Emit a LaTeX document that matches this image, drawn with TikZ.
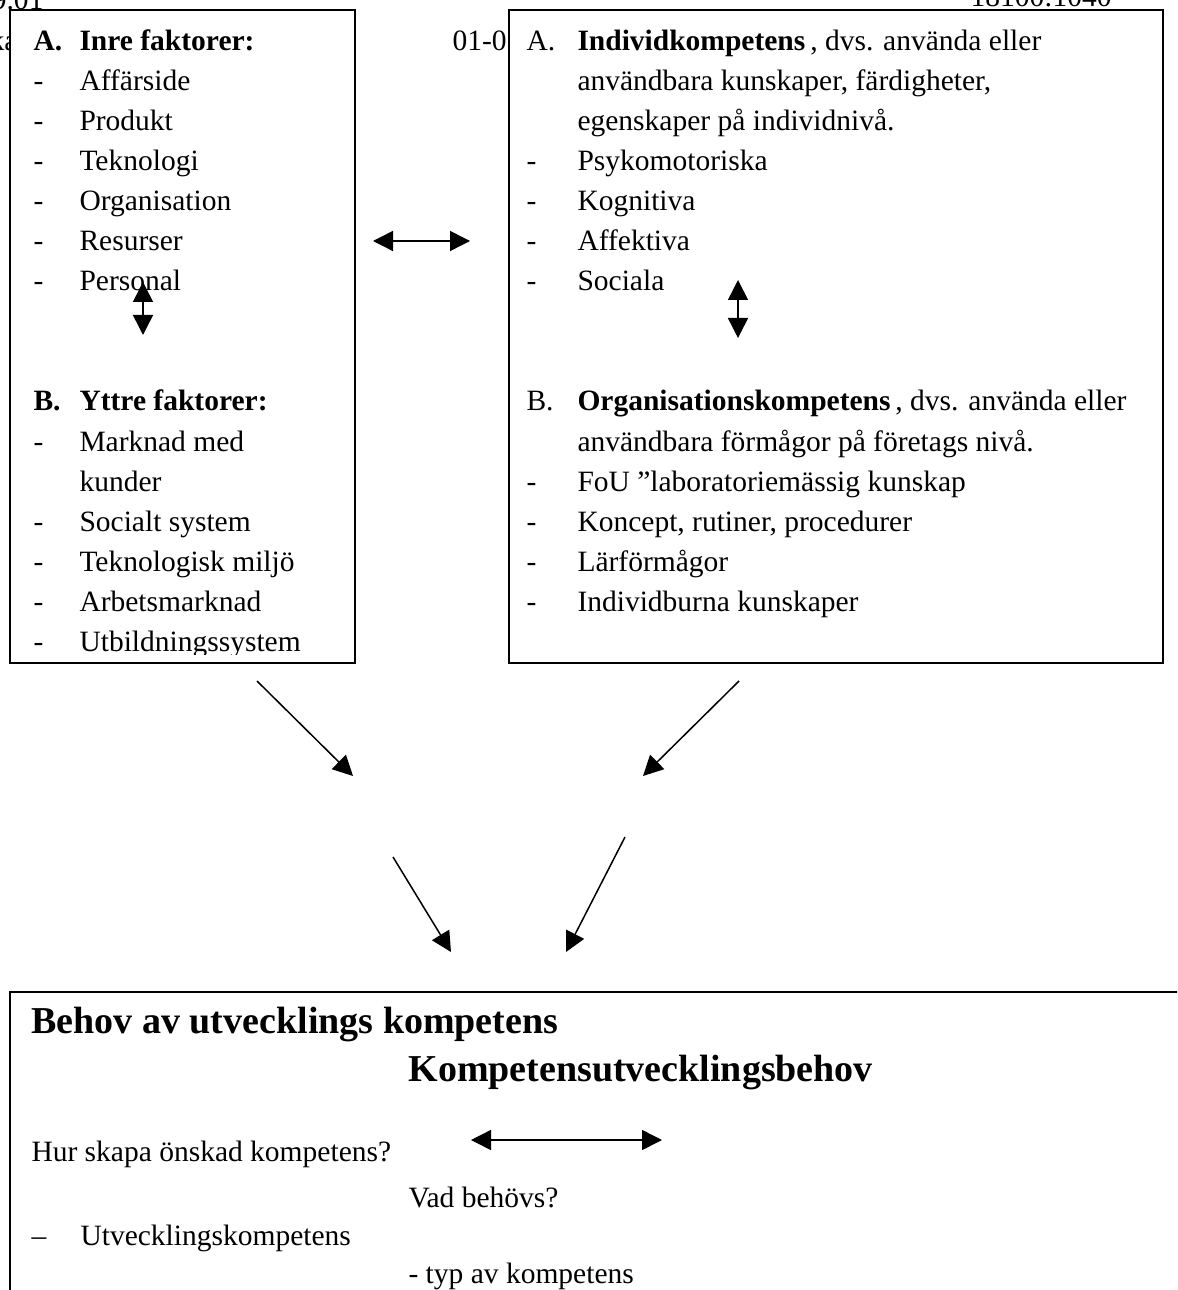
\documentclass[tikz,border=0pt]{standalone}
\usepackage{fontspec}
\setmainfont{Liberation Serif}
\usetikzlibrary{arrows.meta, positioning}

\begin{document}
\begin{tikzpicture}[x=0.4pt, y=-0.4pt,
    txt/.style={anchor=base west, inner sep=0pt, font=\fontsize{11.8}{14}\selectfont},
    bld/.style={txt, font=\fontsize{11.8}{14}\selectfont\bfseries},
    hdr/.style={txt, font=\fontsize{15.2}{18}\selectfont\bfseries},
    frame/.style={draw, line width=0.8pt, fill=white, anchor=north west, inner sep=0pt},
    arr/.style={-{Triangle[length=8pt, width=8pt]}, line width=0.6pt},
    dbl/.style={{Triangle[length=8pt, width=8pt]}-{Triangle[length=8pt, width=8pt]}, line width=0.6pt}]
  \clip (0,0) rectangle (1177,1290);
  % page header, mostly hidden behind the boxes
  \node[txt, anchor=base east] (datel) at (44,10) {9.01};
  \node[txt, anchor=base east] (namel) at (18,51) {ka};
  \node[txt] (dater) at (452,51) {01-01};
  \node[txt, anchor=base east] (refr) at (1112,7) {18100:1040};
  % the three boxes
  \node[frame, minimum width=138pt, minimum height=261.2pt] (fakt) at (9,9) {};
  \node[frame, minimum width=261.6pt, minimum height=261.2pt] (komp) at (508,9) {};
  \node[frame, minimum width=480pt, minimum height=128pt] (behov) at (9,991) {};

  % left box: factors
  \begin{scope}
    \clip (9,9) rectangle (354,654);
    \node[bld] (fa) at (33,51) {A.}; \node[bld] (inre) at (79,51) {Inre faktorer:};
    \node[txt] (fa1) at (33,91) {-}; \node[txt] (affar) at (79,91) {Affärside};
    \node[txt] (fa2) at (33,131) {-}; \node[txt] (prod) at (79,131) {Produkt};
    \node[txt] (fa3) at (33,171) {-}; \node[txt] (tekn) at (79,171) {Teknologi};
    \node[txt] (fa4) at (33,211) {-}; \node[txt] (org) at (79,211) {Organisation};
    \node[txt] (fa5) at (33,251) {-}; \node[txt] (res) at (79,251) {Resurser};
    \node[txt] (fa6) at (33,291) {-}; \node[txt] (pers) at (79,291) {Personal};
    \node[bld] (fb) at (33,411) {B.}; \node[bld] (yttre) at (79,411) {Yttre faktorer:};
    \node[txt] (fb1) at (33,451) {-}; \node[txt] (mark) at (79,451) {Marknad med};
    \node[txt] (kund) at (79,491) {kunder};
    \node[txt] (fb2) at (33,531) {-}; \node[txt] (soc) at (79,531) {Socialt system};
    \node[txt] (fb3) at (33,571) {-}; \node[txt] (miljo) at (79,571) {Teknologisk miljö};
    \node[txt] (fb4) at (33,611) {-}; \node[txt] (arb) at (79,611) {Arbetsmarknad};
    \node[txt] (fb5) at (33,651) {-}; \node[txt] (utb) at (79,651) {Utbildningssystem};
  \end{scope}

  % right box: competence
  \node[txt] (ka) at (526,51) {A.};
  \node[txt] (indiv) at (577,51) {\textbf{Individkompetens}\,, dvs. använda eller};
  \node[txt] (indiv2) at (577,91) {användbara kunskaper, färdigheter,};
  \node[txt] (indiv3) at (577,131) {egenskaper på individnivå.};
  \node[txt] (ka1) at (526,171) {-}; \node[txt] (psyk) at (577,171) {Psykomotoriska};
  \node[txt] (ka2) at (526,211) {-}; \node[txt] (kogn) at (577,211) {Kognitiva};
  \node[txt] (ka3) at (526,251) {-}; \node[txt] (affe) at (577,251) {Affektiva};
  \node[txt] (ka4) at (526,291) {-}; \node[txt] (soci) at (577,291) {Sociala};
  \node[txt] (kb) at (526,411) {B.};
  \node[txt] (orgk) at (577,411) {\textbf{Organisationskompetens}\,, dvs. använda eller};
  \node[txt] (orgk2) at (577,451) {användbara förmågor på företags nivå.};
  \node[txt] (kb1) at (526,491) {-}; \node[txt] (fou) at (577,491) {FoU ”laboratoriemässig kunskap};
  \node[txt] (kb2) at (526,531) {-}; \node[txt] (konc) at (577,531) {Koncept, rutiner, procedurer};
  \node[txt] (kb3) at (526,571) {-}; \node[txt] (lar) at (577,571) {Lärförmågor};
  \node[txt] (kb4) at (526,611) {-}; \node[txt] (ibur) at (577,611) {Individburna kunskaper};

  % bottom box: needs
  \node[hdr] (utv) at (31,1033) {Behov av utvecklings kompetens};
  \node[hdr] (kubeh) at (408,1081) {Kompetensutvecklingsbehov};
  \node[txt] (hur) at (31,1161) {Hur skapa önskad kompetens?};
  \node[txt] (vad) at (408,1207) {Vad behövs?};
  \node[txt] (bd1) at (31,1245) {–}; \node[txt] (utvk) at (80,1245) {Utvecklingskompetens};
  \node[txt] (typ) at (408,1283) {- typ av kompetens};

  % arrows
  \coordinate (lr1) at (373,241); \coordinate (lr2) at (470,241);
  \coordinate (fv1) at (143,282); \coordinate (fv2) at (143,335);
  \coordinate (kv1) at (738,280); \coordinate (kv2) at (738,338);
  \coordinate (d1a) at (257,681); \coordinate (d1b) at (353,776);
  \coordinate (d2a) at (739,681); \coordinate (d2b) at (643,776);
  \coordinate (d3a) at (393,857); \coordinate (d3b) at (451,952);
  \coordinate (d4a) at (625,837); \coordinate (d4b) at (566,952);
  \coordinate (hv1) at (471,1140); \coordinate (hv2) at (662,1140);
  \draw[dbl] (lr1) -- (lr2);
  \draw[dbl] (fv1) -- (fv2);
  \draw[dbl] (kv1) -- (kv2);
  \draw[arr] (d1a) -- (d1b); \draw[arr] (d2a) -- (d2b);
  \draw[arr] (d3a) -- (d3b); \draw[arr] (d4a) -- (d4b);
  \draw[dbl] (hv1) -- (hv2);
\end{tikzpicture}
\end{document}
